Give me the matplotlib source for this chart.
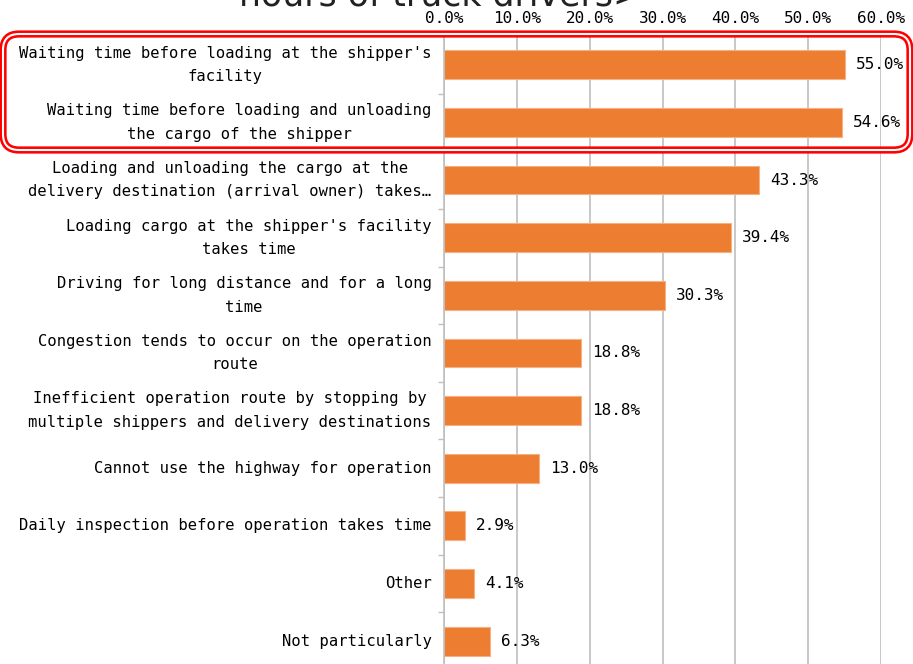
import matplotlib

matplotlib.use("Agg")
import matplotlib.pyplot as plt
from matplotlib.patches import FancyBboxPatch
from matplotlib.ticker import FixedLocator

categories = [
    "Waiting time before loading at the shipper's\nfacility",
    "Waiting time before loading and unloading\nthe cargo of the shipper",
    "Loading and unloading the cargo at the\ndelivery destination (arrival owner) takes\u2026",
    "Loading cargo at the shipper's facility\ntakes time",
    "Driving for long distance and for a long\ntime",
    "Congestion tends to occur on the operation\nroute",
    "Inefficient operation route by stopping by\nmultiple shippers and delivery destinations",
    "Cannot use the highway for operation",
    "Daily inspection before operation takes time",
    "Other",
    "Not particularly",
]
values = [55.0, 54.6, 43.3, 39.4, 30.3, 18.8, 18.8, 13.0, 2.9, 4.1, 6.3]
x_ticks = [0, 10, 20, 30, 40, 50, 60]

FONT = ["DejaVu Sans Mono", "DejaVu Sans"]
BAR = "#ED7D31"
GRID = "#BFBFBF"

W, H = 913, 664
fig = plt.figure(figsize=(W / 100, H / 100), dpi=100)
ax = fig.add_axes([444 / W, 1 - 670 / H, (881 - 444) / W, (670 - 36) / H])

ypos = list(range(len(categories)))
ax.barh(ypos, values, height=0.5, color=BAR, edgecolor="#F4B183", linewidth=0.8, zorder=2)
for y, v in zip(ypos, values):
    ax.text(v + 1.5, y, f"{v:.1f}%", va="center", ha="left", fontsize=11.5,
            family=FONT, color="black", zorder=3)

ax.set_xlim(0, 60)
ax.set_ylim(len(categories) - 0.5, -0.5)
ax.xaxis.tick_top()
ax.set_xticks(x_ticks)
ax.set_xticklabels([f"{t:.1f}%" for t in x_ticks], family=FONT, fontsize=11.5)
ax.tick_params(axis="x", length=0, pad=7.5)
ax.grid(axis="x", color=GRID, linewidth=1.2, zorder=0)

ax.set_yticks(ypos)
ax.set_yticklabels(categories, family=FONT, fontsize=11.2, linespacing=1.7)
for t in ax.get_yticklabels():
    t.set_multialignment("center")
    t.set_verticalalignment("center")
ax.yaxis.set_minor_locator(FixedLocator([i + 0.5 for i in range(-1, len(categories))]))
ax.tick_params(axis="y", which="major", length=0, pad=9)
ax.tick_params(axis="y", which="minor", length=4.5, color=GRID, width=1)

for side in ["top", "right", "bottom"]:
    ax.spines[side].set_visible(False)
ax.spines["left"].set_color(GRID)
ax.spines["left"].set_linewidth(1.2)

# title is cut off by the top edge, only its lower part shows
fig.text(440 / W, 1 - 6 / H, "hours of truck drivers>", ha="center", va="baseline",
         fontsize=25, family="DejaVu Sans", color="#222222")

# red double-line rounded box around the first two rows
for lw, col in [(5.2, "red"), (1.5, "white")]:
    box = FancyBboxPatch((3, H - 150), 907, 116,
                         boxstyle="round,pad=0,rounding_size=16",
                         transform=None, fill=False, edgecolor=col, linewidth=lw,
                         zorder=10)
    fig.patches.append(box)

fig.savefig("out.png", dpi=100)
